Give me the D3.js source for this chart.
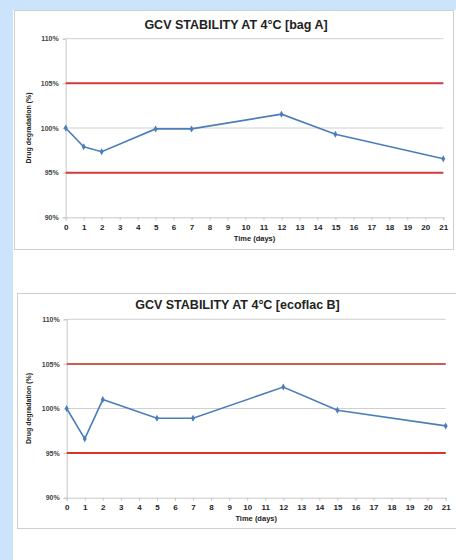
<!DOCTYPE html>
<html><head><meta charset="utf-8">
<script src="https://cdn.jsdelivr.net/npm/d3@7"></script>
<style>
html,body{margin:0;padding:0;background:#fff;}
svg{display:block;font-family:"Liberation Sans",Arial,sans-serif;}
</style></head>
<body>
<svg id="c" width="456" height="560"></svg>
<script>
const days = [0, 1, 2, 5, 7, 12, 15, 21];
const bagA = [100, 97.9, 97.35, 99.9, 99.9, 101.55, 99.3, 96.55];
const ecoflacB = [100, 96.6, 101.0, 98.9, 98.9, 102.4, 99.8, 98.05];
const limits = [95, 105];
const yTicks = [90, 95, 100, 105, 110];
const xTicks = d3.range(0, 22);
const titles = ["GCV STABILITY AT 4°C [bag A]", "GCV STABILITY AT 4°C [ecoflac B]"];

const svg = d3.select("#c");
svg.append("rect").attr("x",0).attr("y",0).attr("width",456).attr("height",10).attr("fill","#cbe4fb");
svg.append("rect").attr("x",0).attr("y",0).attr("width",13).attr("height",560).attr("fill","#cbe4fb");

const panels = [
  {box:[14,10,439,239], x0:65.7, x1:443.3, yTop:38.7, yBot:217.3, title:25, titleX:236, tick:226.7, xt:238, data:bagA, lim:["#d4383a","#d4383a"]},
  {box:[17,293,439,235], x0:66.7, x1:445.7, yTop:319.3, yBot:497.7, title:305, titleX:237.5, tick:507.3, xt:518, data:ecoflacB, lim:["#e0302c","#c8604f"]}
];

panels.forEach((p,i)=>{
  const g = svg.append("g");
  g.append("rect").attr("x",p.box[0]+0.5).attr("y",p.box[1]+0.5).attr("width",p.box[2]).attr("height",p.box[3])
    .attr("fill","#fff").attr("stroke","#cfcfcf").attr("stroke-width",1);
  const x = d3.scaleLinear().domain([0,21]).range([p.x0,p.x1]);
  const y = d3.scaleLinear().domain([90,110]).range([p.yBot,p.yTop]);

  g.selectAll("line.grid").data(yTicks.filter(t=>t>90)).enter().append("line")
    .attr("x1",x(0)).attr("x2",x(21)).attr("y1",d=>y(d)).attr("y2",d=>y(d))
    .attr("stroke","#d0d0d0").attr("stroke-width",1);

  const ya = g.append("g").attr("transform",`translate(${x(0)},0)`)
    .call(d3.axisLeft(y).tickValues(yTicks).tickSize(3).tickFormat(d=>d+"%"));
  ya.select(".domain").attr("stroke","#c8c8c8");
  ya.selectAll(".tick line").attr("stroke","#c8c8c8");
  ya.selectAll("text").attr("fill","#444").attr("font-size",7).attr("font-weight","bold").attr("x",-7);

  const xa = g.append("g").attr("transform",`translate(0,${y(90)})`)
    .call(d3.axisBottom(x).tickValues(xTicks).tickSize(3).tickFormat(d3.format("d")));
  xa.select(".domain").attr("stroke","#c8c8c8");
  xa.selectAll(".tick line").attr("stroke","#c8c8c8");
  xa.selectAll("text").attr("fill","#222").attr("font-size",8).attr("font-weight","bold").attr("y",0)
    .attr("dy",null).attr("transform",`translate(0,${p.tick - y(90) + 3})`);

  g.selectAll("line.lim").data(limits).enter().append("line")
    .attr("x1",x(0)).attr("x2",x(21)).attr("y1",d=>y(d)).attr("y2",d=>y(d))
    .attr("stroke",(d,j)=>p.lim[j]).attr("stroke-width",2);

  const pts = days.map((d,j)=>[d,p.data[j]]);
  g.append("path").datum(pts)
    .attr("d", d3.line().x(d=>x(d[0])).y(d=>y(d[1])))
    .attr("fill","none").attr("stroke","#4a7ebb").attr("stroke-width",1.6);
  g.selectAll("path.pt").data(pts).enter().append("path")
    .attr("transform",d=>`translate(${x(d[0])},${y(d[1])})`)
    .attr("d", d3.symbol(d3.symbolDiamond, 14)())
    .attr("fill","#4a7ebb");

  g.append("text").attr("x",p.titleX).attr("y",p.title).attr("dy","0.35em")
    .attr("text-anchor","middle").attr("font-size",12.5).attr("font-weight","bold").attr("fill","#222")
    .text(titles[i]);
  g.append("text").attr("x",(p.x0+p.x1)/2).attr("y",p.xt).attr("dy","0.35em")
    .attr("text-anchor","middle").attr("font-size",7.5).attr("font-weight","bold").attr("fill","#222")
    .text("Time (days)");
  g.append("text").attr("transform",`translate(29,${(p.yTop+p.yBot)/2}) rotate(-90)`).attr("dy","0.35em")
    .attr("text-anchor","middle").attr("font-size",7).attr("font-weight","bold").attr("fill","#222")
    .text("Drug degradation (%)");
});
</script>
</body></html>
